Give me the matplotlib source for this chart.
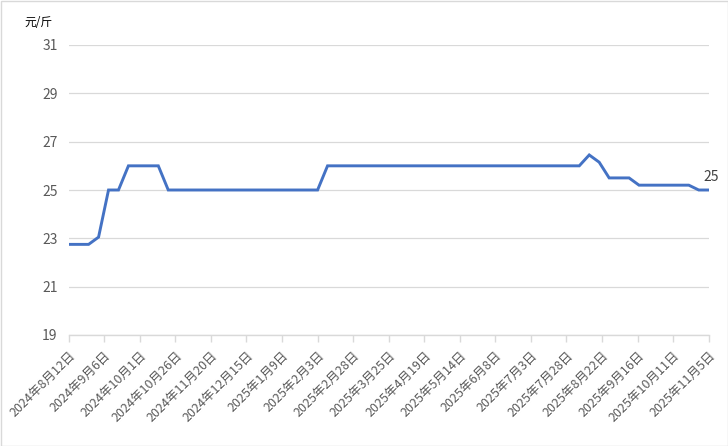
import matplotlib
matplotlib.use("Agg")
import matplotlib.pyplot as plt
from matplotlib.patches import Rectangle
import pandas as pd

plt.rcParams['font.family'] = ['Noto Sans CJK SC', 'DejaVu Sans']

# ---- data ----
dates = [
    "2024-08-12", "2024-08-19", "2024-08-26", "2024-09-02", "2024-09-09", "2024-09-16",
    "2024-09-23", "2024-09-30", "2024-10-07", "2024-10-14", "2024-10-21", "2024-10-28",
    "2024-11-04", "2024-11-11", "2024-11-18", "2024-11-25", "2024-12-02", "2024-12-09",
    "2024-12-16", "2024-12-23", "2024-12-30", "2025-01-06", "2025-01-13", "2025-01-20",
    "2025-01-27", "2025-02-03", "2025-02-10", "2025-02-17", "2025-02-24", "2025-03-03",
    "2025-03-10", "2025-03-17", "2025-03-24", "2025-03-31", "2025-04-07", "2025-04-14",
    "2025-04-21", "2025-04-28", "2025-05-05", "2025-05-12", "2025-05-19", "2025-05-28",
    "2025-06-04", "2025-06-11", "2025-06-18", "2025-06-25", "2025-07-02", "2025-07-09",
    "2025-07-16", "2025-07-23", "2025-07-30", "2025-08-06", "2025-08-13", "2025-08-20",
    "2025-08-27", "2025-09-03", "2025-09-10", "2025-09-17", "2025-09-24", "2025-10-01",
    "2025-10-08", "2025-10-15", "2025-10-22", "2025-10-29", "2025-11-05",
]
prices = [
    22.75, 22.75, 22.75, 23.05, 25.0, 25.0,
    26.0, 26.0, 26.0, 26.0, 25.0, 25.0,
    25.0, 25.0, 25.0, 25.0, 25.0, 25.0,
    25.0, 25.0, 25.0, 25.0, 25.0, 25.0,
    25.0, 25.0, 26.0, 26.0, 26.0, 26.0,
    26.0, 26.0, 26.0, 26.0, 26.0, 26.0,
    26.0, 26.0, 26.0, 26.0, 26.0, 26.0,
    26.0, 26.0, 26.0, 26.0, 26.0, 26.0,
    26.0, 26.0, 26.0, 26.0, 26.45, 26.15,
    25.5, 25.5, 25.5, 25.2, 25.2, 25.2,
    25.2, 25.2, 25.2, 25.0, 25.0,
]
tick_dates = [
    "2024-08-12", "2024-09-06", "2024-10-01", "2024-10-26", "2024-11-20", "2024-12-15",
    "2025-01-09", "2025-02-03", "2025-02-28", "2025-03-25", "2025-04-19", "2025-05-14",
    "2025-06-08", "2025-07-03", "2025-07-28", "2025-08-22", "2025-09-16", "2025-10-11",
    "2025-11-05",
]
tick_labels = [
    "2024年8月12日", "2024年9月6日", "2024年10月1日", "2024年10月26日", "2024年11月20日",
    "2024年12月15日", "2025年1月9日", "2025年2月3日", "2025年2月28日", "2025年3月25日",
    "2025年4月19日", "2025年5月14日", "2025年6月8日", "2025年7月3日", "2025年7月28日",
    "2025年8月22日", "2025年9月16日", "2025年10月11日", "2025年11月5日",
]
y_ticks = [19, 21, 23, 25, 27, 29, 31]
unit_label = "元/斤"

x = pd.to_datetime(dates)
xt = pd.to_datetime(tick_dates)

fig = plt.figure(figsize=(7.28, 4.46), dpi=100)
ax = fig.add_axes([68.7 / 728, 1 - 335 / 446, 640 / 728, 290 / 446])

ax.plot(x, prices, color="#4472C4", lw=2.1, solid_joinstyle="miter", zorder=3)

ax.set_xlim(xt[0], xt[-1])
ax.set_ylim(19, 31)
ax.set_yticks(y_ticks)
ax.set_yticklabels([str(v) for v in y_ticks])
ax.set_xticks(xt)
ax.set_xticklabels(tick_labels, rotation=45, ha="right", rotation_mode="anchor")

ax.grid(axis="y", color="#D9D9D9", lw=0.9)
ax.set_axisbelow(True)
for s in ["top", "right", "left"]:
    ax.spines[s].set_visible(False)
ax.spines["bottom"].set_color("#D9D9D9")
ax.spines["bottom"].set_linewidth(1.0)
ax.tick_params(axis="y", length=0, pad=8, labelsize=10, labelcolor="#595959")
ax.tick_params(axis="x", length=5, color="#D9D9D9", width=1.0, pad=5,
               labelsize=9, labelcolor="#595959")

ax.annotate(f"{prices[-1]:g}", xy=(x[-1], prices[-1]), xytext=(2, 4),
            textcoords="offset points", ha="center", va="bottom",
            fontsize=10, color="#404040")

fig.text(38 / 728, 1 - 22 / 446, unit_label, ha="center", va="center",
         fontsize=8.5, color="#000000")

fig.patches.append(Rectangle((0.5 / 728, 0.5 / 446), 727 / 728, 445 / 446,
                             transform=fig.transFigure, fill=False,
                             edgecolor="#D9D9D9", lw=1.0))

fig.savefig("out.png", dpi=100)
